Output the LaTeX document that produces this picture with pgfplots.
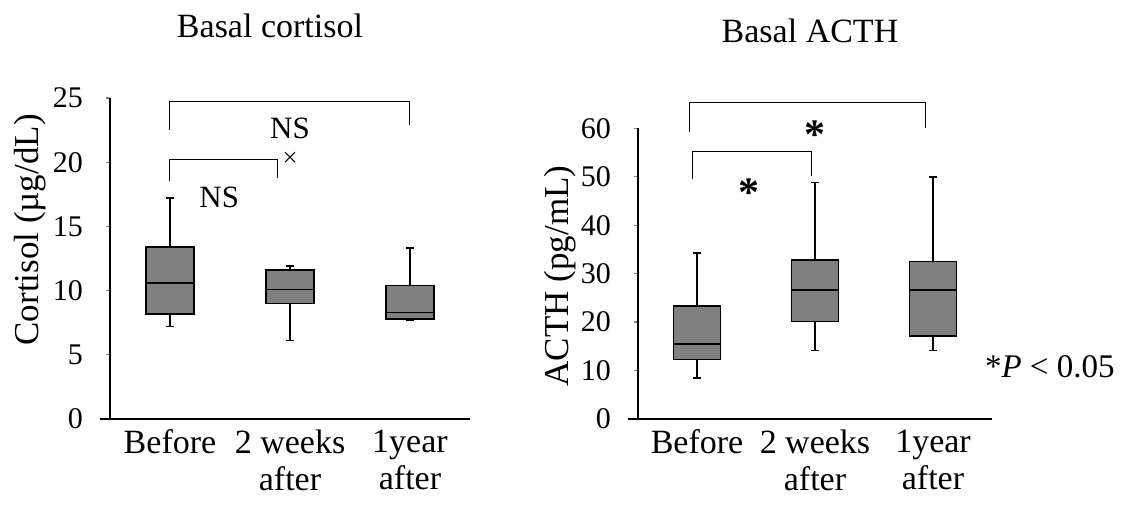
\documentclass[border=0pt]{standalone}
\usepackage{fontspec}
\setmainfont{Liberation Serif}
\usepackage{pgfplots}
\pgfplotsset{compat=1.18}
\usepgfplotslibrary{statistics}
\definecolor{boxgray}{HTML}{808080}

\pgfplotsset{
  panel/.style={
    scale only axis, anchor=south west, clip=false,
    axis lines=left, axis line style={-, line width=0.8pt},
    x axis line style={shorten <=-5pt},
    xmin=0.5, xmax=3.5, xtick={1,2,3},
    xticklabels={Before,{2 weeks\\after},{1year\\after}},
    xticklabel style={align=center, font=\fontsize{17}{18.5}\selectfont},
    xtick style={draw=none},
    tick align=outside, major tick length=2pt,
    ytick style={line width=0.6pt},
    yticklabel style={font=\fontsize{15}{16}\selectfont, xshift=-8pt},
    /pgf/number format/assume math mode=true,
    ylabel style={font=\fontsize{17.5}{20}\selectfont, anchor=center},
    boxplot/draw direction=y,
    boxplot/whisker extend=0.06,
    boxplot/box extend=0.4,
  },
  bx/.style={draw=black, fill=boxgray, line width=0.8pt, solid},
}
\tikzset{
  br/.style={draw=black, line width=0.5pt},
  ns/.style={font=\fontsize{15.5}{17}\selectfont},
  star/.style={font=\fontsize{21}{21}\selectfont\bfseries, yshift=-2.8pt},
}

\begin{document}
\begin{tikzpicture}
\path[use as bounding box] (0,0) rectangle (560.5pt,256pt);

% cortisol
\begin{axis}[panel, at={(55pt,46.5pt)}, width=180pt, height=160.5pt,
  ymin=0, ymax=25, ytick={0,5,...,25},
  ylabel={Cortisol (µg/dL)},
  ylabel style={at={(axis description cs:-0.222,0.589)}}]
  \addplot[bx, boxplot prepared={draw position=1, lower whisker=7.2,
    lower quartile=8.2, median=10.6, upper quartile=13.4, upper whisker=17.2}]
    coordinates {};
  \addplot[bx, mark=x, mark size=3.5pt, mark options={line width=0.5pt},
    boxplot prepared={draw position=2, lower whisker=6.1,
    lower quartile=9.0, median=10.1, upper quartile=11.6, upper whisker=11.9}]
    coordinates {(0,20.4)};
  \addplot[bx, boxplot prepared={draw position=3, lower whisker=7.7,
    lower quartile=7.8, median=8.3, upper quartile=10.4, upper whisker=13.3}]
    coordinates {};
  \draw[br] (1,22.5) -- (1,24.7) -- (3,24.7) -- (3,22.9);
  \draw[br] (1,18.5) -- (1,20.2) -- (1.9,20.2) -- (1.9,18.8);
  \node[ns] at (2,22.6) {NS};
  \node[ns] at (1.41,17.25) {NS};
\end{axis}

% ACTH
\begin{axis}[panel, at={(319pt,46.5pt)}, width=177pt, height=145.35pt,
  ymin=0, ymax=60, ytick={0,10,...,60},
  ylabel={ACTH (pg/mL)},
  ylabel style={at={(axis description cs:-0.220,0.492)}}]
  \addplot[bx, boxplot prepared={draw position=1, lower whisker=8.4,
    lower quartile=12.3, median=15.5, upper quartile=23.3, upper whisker=34.3}]
    coordinates {};
  \addplot[bx, boxplot prepared={draw position=2, lower whisker=14.1,
    lower quartile=20.1, median=26.6, upper quartile=32.8, upper whisker=48.8}]
    coordinates {};
  \addplot[bx, boxplot prepared={draw position=3, lower whisker=14.1,
    lower quartile=17.1, median=26.6, upper quartile=32.5, upper whisker=50.0}]
    coordinates {};
  \draw[br] (0.94,59.3) -- (0.94,65.3) -- (2.94,65.3) -- (2.94,60);
  \draw[br] (0.96,49.5) -- (0.96,55.2) -- (1.97,55.2) -- (1.97,50.2);
  \node[star] at (2,59.9) {*};
  \node[star] at (1.44,47.8) {*};
\end{axis}

\node[anchor=base, font=\fontsize{17}{19}\selectfont] at (135pt,237pt) {Basal cortisol};
\node[anchor=base, font=\fontsize{17}{19}\selectfont] at (405pt,234.5pt) {Basal ACTH};
\node[anchor=base west, font=\fontsize{16.5}{18}\selectfont] at (489pt,67pt) {*\textit{P} < 0.05};
\end{tikzpicture}
\end{document}
